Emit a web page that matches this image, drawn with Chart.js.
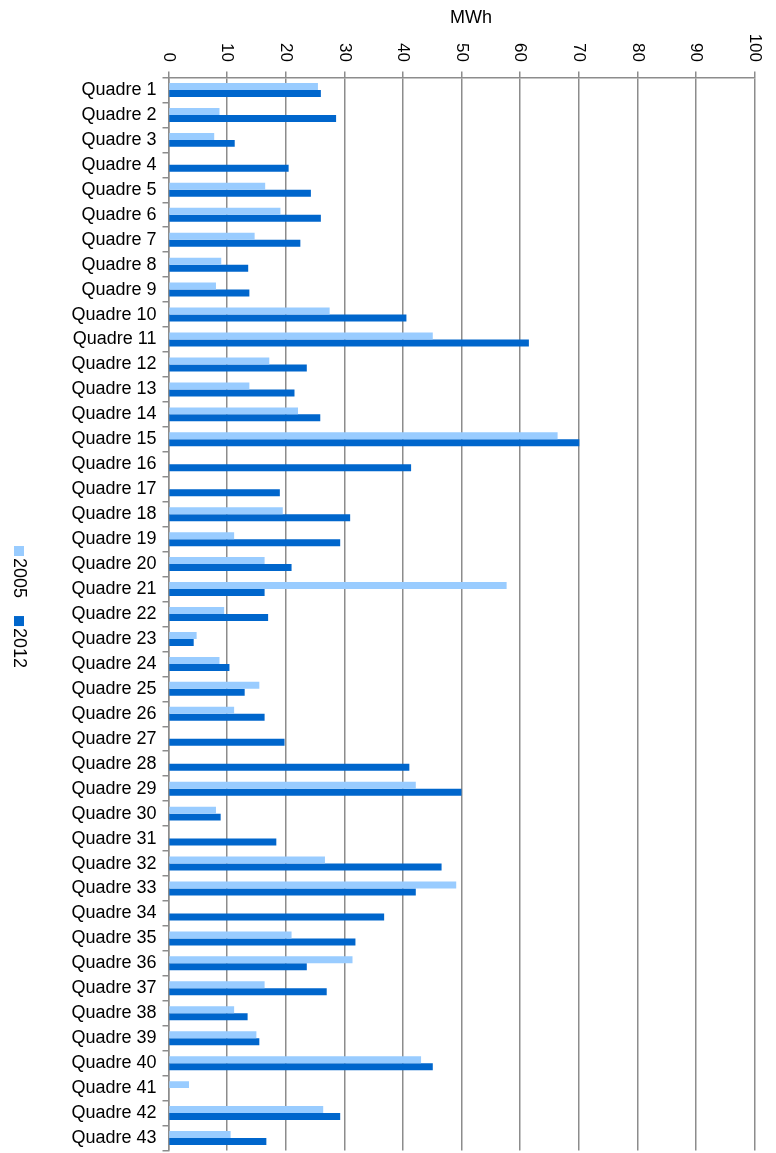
<!DOCTYPE html>
<html>
<head>
<meta charset="utf-8">
<title>Quadres MWh</title>
<script src="https://cdn.jsdelivr.net/npm/chart.js@4/dist/chart.umd.min.js"></script>
<style>
  body { margin: 0; background: #fff; }
  canvas { display: block; }
</style>
</head>
<body>
<canvas id="chart" width="776" height="1153"></canvas>
<script>
const categories = [
  "Quadre 1", "Quadre 2", "Quadre 3", "Quadre 4", "Quadre 5", "Quadre 6", "Quadre 7",
  "Quadre 8", "Quadre 9", "Quadre 10", "Quadre 11", "Quadre 12", "Quadre 13", "Quadre 14",
  "Quadre 15", "Quadre 16", "Quadre 17", "Quadre 18", "Quadre 19", "Quadre 20", "Quadre 21",
  "Quadre 22", "Quadre 23", "Quadre 24", "Quadre 25", "Quadre 26", "Quadre 27", "Quadre 28",
  "Quadre 29", "Quadre 30", "Quadre 31", "Quadre 32", "Quadre 33", "Quadre 34", "Quadre 35",
  "Quadre 36", "Quadre 37", "Quadre 38", "Quadre 39", "Quadre 40", "Quadre 41", "Quadre 42",
  "Quadre 43"
];

const values2005 = [
  25.5, 8.7, 7.8, 0, 16.5, 19.1, 14.7, 9.0, 8.1, 27.5,
  45.1, 17.2, 13.8, 22.1, 66.4, 0, 0, 19.5, 11.2, 16.4,
  57.7, 9.5, 4.8, 8.7, 15.5, 11.2, 0, 0, 42.2, 8.1,
  0, 26.7, 49.1, 0, 21.0, 31.4, 16.4, 11.2, 15.0, 43.1,
  3.5, 26.4, 10.6
];

const values2012 = [
  26.0, 28.6, 11.3, 20.5, 24.3, 26.0, 22.5, 13.6, 13.8, 40.6,
  61.5, 23.6, 21.5, 25.9, 70.1, 41.4, 19.0, 31.0, 29.3, 21.0,
  16.4, 17.0, 4.3, 10.4, 13.0, 16.4, 19.8, 41.1, 50.0, 8.9,
  18.4, 46.6, 42.2, 36.8, 31.9, 23.6, 27.0, 13.5, 15.5, 45.1,
  0, 29.3, 16.7
];

const seriesNames = ["2005", "2012"];
const axisMin = 0;
const axisMax = 100;
const axisStep = 10;
const axisTitle = "MWh";

const FONT = "'Liberation Sans', Arial, Helvetica, sans-serif";
const GRID = "#8c8c8c";

// tick labels on the top axis read top-to-bottom, so they are drawn by hand
const rotatedTicks = {
  id: "rotatedTicks",
  afterDraw(chart) {
    const ctx = chart.ctx;
    const x = chart.scales.x;
    ctx.save();
    ctx.fillStyle = "#000";
    ctx.font = "17px " + FONT;
    ctx.textAlign = "right";
    ctx.textBaseline = "middle";
    x.ticks.forEach(t => {
      ctx.save();
      ctx.translate(x.getPixelForValue(t.value), 62);
      ctx.rotate(Math.PI / 2);
      ctx.fillText(String(t.value), 0, 0);
      ctx.restore();
    });
    ctx.font = "18px " + FONT;
    ctx.textAlign = "center";
    ctx.textBaseline = "alphabetic";
    ctx.fillText(axisTitle, 471, 23);
    ctx.restore();
  }
};

// vertical legend on the left side
const sideLegend = {
  id: "sideLegend",
  afterDraw(chart) {
    const ctx = chart.ctx;
    let y = 546;
    ctx.save();
    ctx.font = "18px " + FONT;
    ctx.textBaseline = "middle";
    ctx.textAlign = "left";
    chart.data.datasets.forEach(ds => {
      ctx.fillStyle = ds.backgroundColor;
      ctx.fillRect(14, y, 10, 10);
      y += 12;
      ctx.fillStyle = "#000";
      ctx.save();
      ctx.translate(19, y);
      ctx.rotate(Math.PI / 2);
      ctx.fillText(ds.label, 0, 0);
      ctx.restore();
      y += ctx.measureText(ds.label).width + 18;
    });
    ctx.restore();
  }
};

new Chart(document.getElementById("chart"), {
  type: "bar",
  data: {
    labels: categories,
    datasets: [
      { label: seriesNames[0], data: values2005, backgroundColor: "#99ccff" },
      { label: seriesNames[1], data: values2012, backgroundColor: "#0066cc" }
    ]
  },
  options: {
    indexAxis: "y",
    responsive: false,
    animation: false,
    devicePixelRatio: 1,
    categoryPercentage: 0.56,
    barPercentage: 1.0,
    layout: { padding: { left: 0, top: 0, right: 21.5, bottom: 2.5 } },
    plugins: {
      legend: { display: false },
      title: { display: false },
      tooltip: { enabled: false }
    },
    scales: {
      x: {
        position: "top",
        min: axisMin,
        max: axisMax,
        ticks: { display: false, stepSize: axisStep },
        grid: { color: GRID, lineWidth: 1.5, tickLength: 6 },
        border: { color: GRID, width: 1.5 },
        afterFit: s => { s.height = 77.5; s.paddingLeft = 0; s.paddingRight = 0; }
      },
      y: {
        ticks: {
          autoSkip: false,
          color: "#000",
          padding: 6,
          font: { family: FONT, size: 18 }
        },
        grid: { offset: true, drawOnChartArea: false, color: GRID, lineWidth: 1.5, tickLength: 6 },
        border: { color: GRID, width: 1.5 },
        afterFit: s => { s.width = 168.5; s.paddingTop = 0; s.paddingBottom = 0; }
      }
    }
  },
  plugins: [rotatedTicks, sideLegend]
});
</script>
</body>
</html>
